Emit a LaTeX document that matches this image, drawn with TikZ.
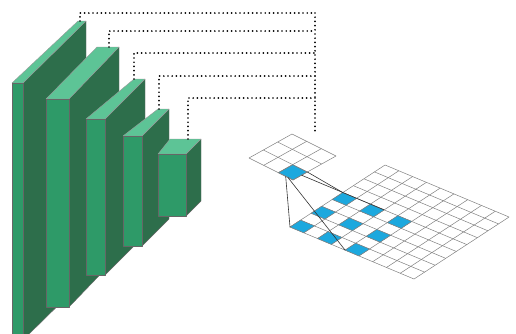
\documentclass[tikz,border=0pt]{standalone}
\definecolor{boxfront}{RGB}{46,154,104}
\definecolor{boxside}{RGB}{45,110,75}
\definecolor{boxtop}{RGB}{93,196,150}
\definecolor{cellblue}{RGB}{28,168,222}
% one slab: front-left x, front-right x, front-top y, front-bottom y,
% back-left x, back-right x, back-top y
\newcommand{\drawslab}[7]{%
  \filldraw[slabside] (#2,#3) -- (#6,#7) -- (#6,#7+#4-#3) -- (#2,#4) -- cycle;
  \filldraw[slabtop] (#1,#3) -- (#5,#7) -- (#6,#7) -- (#2,#3) -- cycle;
  \filldraw[slabfront] (#1,#3) -- (#2,#3) -- (#2,#4) -- (#1,#4) -- cycle;
}
\newcommand{\bluecell}[2]{%
  \filldraw[fill=cellblue,draw=black!50,line width=0.5pt]
    (#1,#2) -- (#1+1,#2) -- (#1+1,#2+1) -- (#1,#2+1) -- cycle;
}
\begin{document}
\begin{tikzpicture}[x=1pt,y=-1pt,
  slabfront/.style={fill=boxfront,draw=black!60,line width=0.4pt,line join=round},
  slabside/.style={fill=boxside,draw=black!60,line width=0.4pt,line join=round},
  slabtop/.style={fill=boxtop,draw=black!40,line width=0.4pt,line join=round},
  dotline/.style={draw=black,line width=1.9pt,dash pattern=on 0pt off 4.2pt,line cap=round},
  gridline/.style={draw=black!50,line width=0.5pt},
  link/.style={draw=black!80,line width=0.6pt}]
\useasboundingbox (0,0) rectangle (516,333);
\clip (0,0) rectangle (516,333);

% feature-map slabs, back to front
\drawslab{12}{23}{83}{340}{78}{86}{21}
\drawslab{46}{69}{99}{307}{97}{119}{47}
\drawslab{86}{105}{119}{275}{134}{145}{79}
\drawslab{123}{142}{136}{246}{158}{169}{109}
\drawslab{158}{186}{154}{216}{170}{201}{139}

% dotted taps from each slab to the common bus
\coordinate (d1) at (80,21);
\coordinate (d2) at (109,47);
\coordinate (d3) at (134,79);
\coordinate (d4) at (159,109);
\coordinate (d5) at (188,139);
\coordinate (h1) at (315,13);
\coordinate (h2) at (315,31);
\coordinate (h3) at (315,53);
\coordinate (h4) at (315,76);
\coordinate (h5) at (315,98);
\coordinate (busend) at (315,131);
\foreach \i in {1,...,5} \draw[dotline] (d\i) |- (h\i);
\draw[dotline] (h1) -- (busend);

% small 3x3 output grid
\begin{scope}[shift={(249pt,-158pt)},x={(14.33pt,8pt)},y={(14.67pt,-7.33pt)}]
  \bluecell{0}{2}
  \foreach \k in {0,...,3} {
    \draw[gridline] (\k,0) -- (\k,3);
    \draw[gridline] (0,\k) -- (3,\k);
  }
  \coordinate (sa) at (0,2.5);
  \coordinate (sb) at (0,2.65);
  \coordinate (sc) at (1,3);
  \coordinate (sd) at (0.6,3);
\end{scope}

% large 9x9 input grid with dilated 3x3 kernel
\begin{scope}[shift={(290pt,-227pt)},x={(10.56pt,6.89pt)},y={(13.78pt,-5.78pt)}]
  \foreach \k in {0,...,9} {
    \draw[gridline] (\k,0) -- (\k,9);
    \draw[gridline] (0,\k) -- (9,\k);
  }
  \foreach \a in {0,2,4} \foreach \b in {0,2,4} \bluecell{\a}{\b}
  \coordinate (ga) at (0,0);
  \coordinate (gb) at (0,4);
  \coordinate (gc) at (5,0);
  \coordinate (gd) at (5,3);
\end{scope}

% receptive-field links
\draw[link] (sa) -- (ga);
\draw[link] (sb) -- (gb);
\draw[link] (sc) -- (gc);
\draw[link] (sd) -- (gd);
\end{tikzpicture}
\end{document}
